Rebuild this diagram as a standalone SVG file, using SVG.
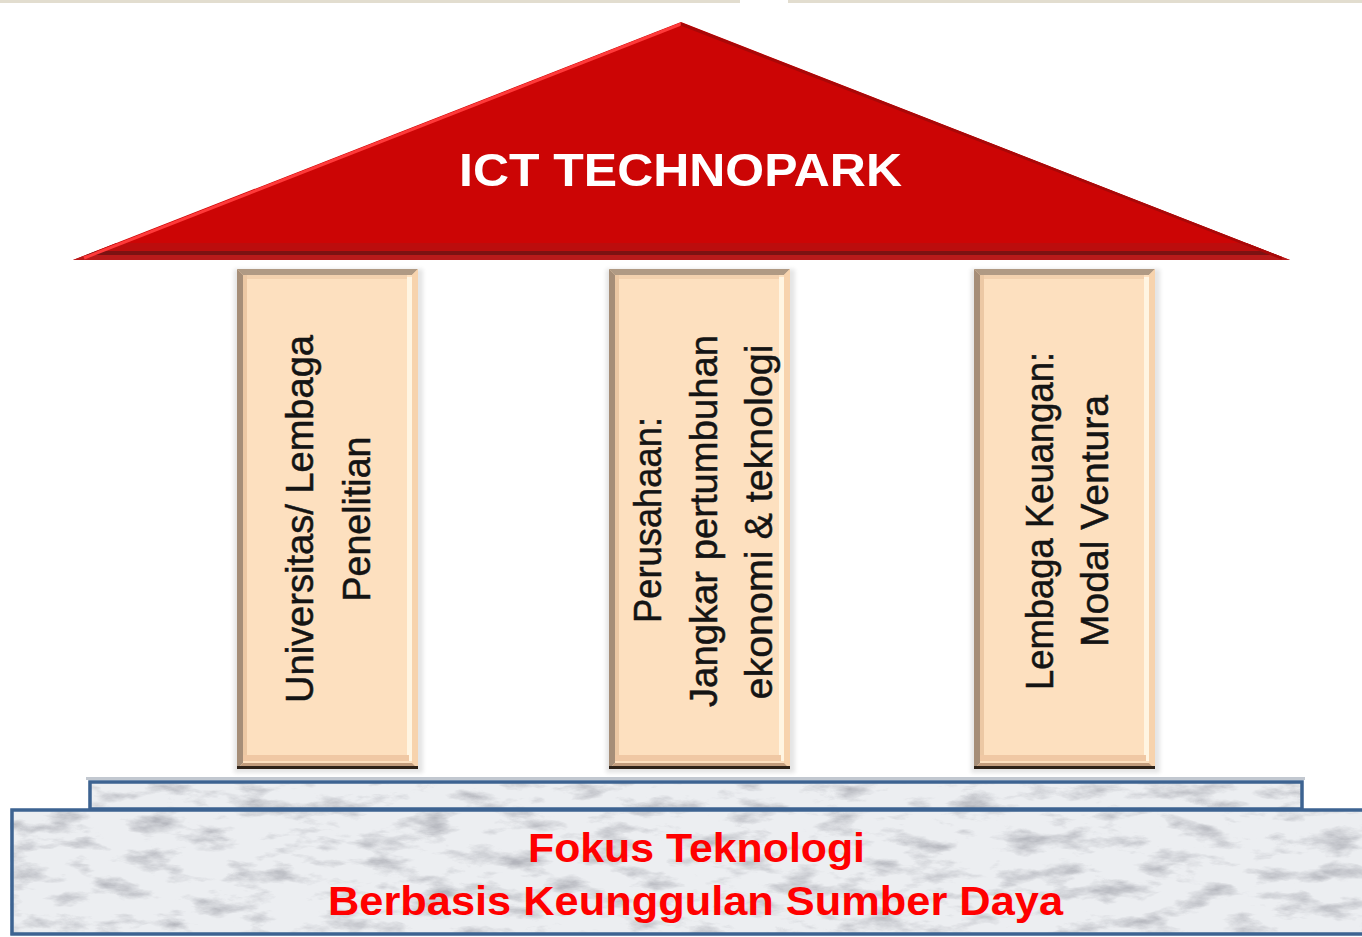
<svg xmlns="http://www.w3.org/2000/svg" xmlns:xlink="http://www.w3.org/1999/xlink" width="1362" height="937" viewBox="0 0 1362 937">
<style>
.roofTitle{font-family:"Liberation Sans",Arial,sans-serif;font-weight:bold;font-size:47px;fill:#ffffff}
.pt{font-family:"Liberation Sans",Arial,sans-serif;font-size:38px;fill:#141414;text-anchor:middle;stroke:#141414;stroke-width:0.5}
.bt{font-family:"Liberation Sans",Arial,sans-serif;font-weight:bold;font-size:40px;fill:#ff0000}
.marbleBase{fill:#eceef1}
.stepBorder{fill:none;stroke:#3d6391;stroke-width:3.5}
</style>
<defs>
<clipPath id="roofClip"><polygon points="73,260 681,22 1290,260"/></clipPath>
<filter id="marble" x="0" y="0" width="1" height="1">
<feTurbulence type="fractalNoise" baseFrequency="0.022 0.06" numOctaves="5" seed="7" result="n"/>
<feColorMatrix in="n" type="matrix" values="0 0 0 0 0.45  0 0 0 0 0.46  0 0 0 0 0.5  -2.6 0 0 0 1.32"/>
<feComposite in2="SourceGraphic" operator="in"/>
</filter>
<filter id="soft" x="-10%" y="-10%" width="120%" height="120%"><feGaussianBlur stdDeviation="2"/></filter>
<g id="pillarShape">
<rect x="-3" y="0" width="189" height="504" fill="#000" opacity="0.10" filter="url(#soft)"/>
<rect x="0" y="0" width="181" height="500" fill="#fde0bf"/>
<polygon points="0,0 181,0 175,6 6,6" fill="#b09a84"/>
<polygon points="0,0 6,6 6,494 0,500" fill="#a68e78"/>
<polygon points="181,0 181,500 175,494 175,6" fill="#f7d3ad"/>
<rect x="170" y="8" width="5" height="484" fill="#fff5e2"/>
<polygon points="0,500 181,500 175,494 6,494" fill="#c29c7c"/>
<rect x="6" y="6" width="164" height="4" fill="#f3d1ae"/>
<rect x="6" y="6" width="4" height="486" fill="#ecc8a4"/>
<rect x="6" y="486" width="166" height="6" fill="#f0c8a4"/>
<rect x="0" y="497" width="181" height="3" fill="#2e2218"/>
</g>
</defs>

<rect x="0" y="0" width="1362" height="937" fill="#ffffff"/>
<rect x="0" y="0" width="740" height="3" fill="#e2ddcf"/>
<rect x="788" y="0" width="574" height="3" fill="#e2ddcf"/>

<g id="roof">
<polygon points="73,260 681,22 1290,260" fill="#cc0505"/>
<g clip-path="url(#roofClip)">
<rect x="60" y="243" width="1240" height="8" fill="#bb0d0d"/>
<rect x="60" y="251" width="1240" height="4" fill="#7c1212"/>
<rect x="60" y="255" width="1240" height="6" fill="#b81a1a"/>
<line x1="84" y1="258" x2="681" y2="24" stroke="#ff3a3a" stroke-width="3"/>
<line x1="681" y1="24" x2="1282" y2="258" stroke="#a80808" stroke-width="3"/>
</g>
<text class="roofTitle" x="459" y="186" textLength="443" lengthAdjust="spacingAndGlyphs">ICT TECHNOPARK</text>
</g>

<g id="pillar1">
<use xlink:href="#pillarShape" x="237" y="269"/>
<text class="pt" transform="translate(313,519) rotate(-90)" textLength="368" lengthAdjust="spacingAndGlyphs">Universitas/ Lembaga</text>
<text class="pt" transform="translate(370,519) rotate(-90)" textLength="165" lengthAdjust="spacingAndGlyphs">Penelitian</text>
</g>

<g id="pillar2">
<use xlink:href="#pillarShape" x="609" y="269"/>
<text class="pt" transform="translate(661,520) rotate(-90)" textLength="206" lengthAdjust="spacingAndGlyphs">Perusahaan:</text>
<text class="pt" transform="translate(717,521) rotate(-90)" textLength="372" lengthAdjust="spacingAndGlyphs">Jangkar pertumbuhan</text>
<text class="pt" transform="translate(772,522) rotate(-90)" textLength="355" lengthAdjust="spacingAndGlyphs">ekonomi &amp; teknologi</text>
</g>

<g id="pillar3">
<use xlink:href="#pillarShape" x="974" y="269"/>
<text class="pt" transform="translate(1053,521) rotate(-90)" textLength="338" lengthAdjust="spacingAndGlyphs">Lembaga Keuangan:</text>
<text class="pt" transform="translate(1108,521) rotate(-90)" textLength="252" lengthAdjust="spacingAndGlyphs">Modal Ventura</text>
</g>

<g id="base-step">
<rect x="88" y="781" width="1215" height="28" class="marbleBase"/>
<rect x="88" y="781" width="1215" height="28" fill="#000" filter="url(#marble)"/>
<rect x="86" y="777" width="1219" height="3" fill="#c2c8d0"/>
<rect x="90" y="782" width="1212" height="27" class="stepBorder"/>
</g>

<g id="foundation">
<rect x="10" y="809" width="1352" height="126" class="marbleBase"/>
<rect x="10" y="809" width="1352" height="126" fill="#000" filter="url(#marble)"/>
<rect x="12" y="810" width="1360" height="124" class="stepBorder"/>
<text class="bt" x="528" y="862" textLength="337" lengthAdjust="spacingAndGlyphs">Fokus Teknologi</text>
<text class="bt" x="328" y="915" textLength="735" lengthAdjust="spacingAndGlyphs">Berbasis Keunggulan Sumber Daya</text>
</g>
</svg>
